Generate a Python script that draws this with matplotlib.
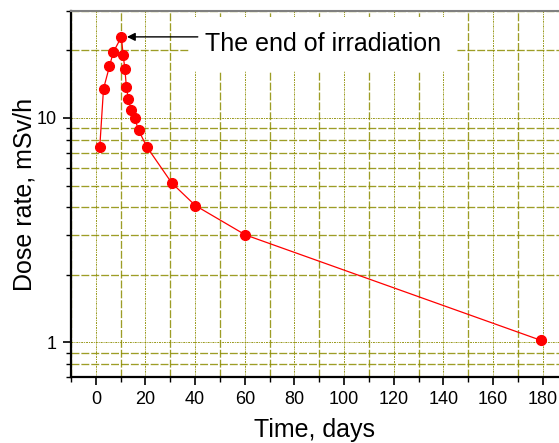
import matplotlib
matplotlib.use("Agg")
import matplotlib.pyplot as plt
from matplotlib.ticker import MultipleLocator, LogLocator, NullFormatter, FixedFormatter, FixedLocator

plt.rcParams['font.family'] = ['Liberation Sans', 'DejaVu Sans']

# dose rate after irradiation
time_days = [1.6, 3.1, 5.5, 7.0, 10.3, 11.0, 11.7, 12.3, 13.1, 14.2, 15.6, 17.2, 20.5, 30.6, 40.1, 60.3, 179.3]
dose_rate = [7.45, 13.5, 17.0, 19.6, 23.0, 19.1, 16.6, 13.8, 12.1, 10.9, 10.0, 8.84, 7.45, 5.13, 4.07, 3.01, 1.02]
peak_idx = 4
note = "The end of irradiation"

x_major = [0, 20, 40, 60, 80, 100, 120, 140, 160, 180]
y_major = [1, 10]
y_major_labels = ["1", "10"]

grid_col = "#8c8c00"

fig = plt.figure(figsize=(5.59, 4.43), dpi=100)
ax = fig.add_axes([71/559, 1 - 377/443, 1 - 71/559, (377 - 11)/443])

ax.set_yscale("log")
ax.set_xlim(-10, 186.6)
ax.set_ylim(0.7, 30)

ax.xaxis.set_major_locator(FixedLocator(x_major))
ax.xaxis.set_minor_locator(MultipleLocator(10))
ax.yaxis.set_major_locator(FixedLocator(y_major))
ax.yaxis.set_major_formatter(FixedFormatter(y_major_labels))
ax.yaxis.set_minor_locator(LogLocator(base=10, subs=range(2, 10)))
ax.yaxis.set_minor_formatter(NullFormatter())

# grid: major thin dotted, minor dashed
ax.grid(True, which="major", color=grid_col, linestyle=(0, (2, 1, 1, 1)), linewidth=0.7, alpha=0.9)
ax.grid(True, which="minor", color=grid_col, linestyle=(0, (6, 1.5)), linewidth=0.95, alpha=0.85)
ax.set_axisbelow(True)

ax.plot(time_days, dose_rate, color="red", linewidth=0.9, marker="o", markersize=7,
        markerfacecolor="red", markeredgecolor="red", zorder=3)

ax.annotate(note, xy=(time_days[peak_idx], dose_rate[peak_idx]), xytext=(60, -5),
            textcoords="offset points", fontsize=18, va="center", ha="left",
            bbox=dict(boxstyle="square,pad=0.6", fc="white", ec="none"), zorder=4)
ax.annotate("", xy=(time_days[peak_idx], dose_rate[peak_idx]), xytext=(55, 0),
            textcoords="offset points",
            arrowprops=dict(arrowstyle="-|>", color="black", lw=1.0, mutation_scale=12,
                            shrinkA=0, shrinkB=4), zorder=5)

ax.spines["right"].set_visible(False)
ax.spines["top"].set_color("#808080")
ax.spines["top"].set_linewidth(1.5)
ax.spines["left"].set_linewidth(1.6)
ax.spines["bottom"].set_linewidth(1.6)

ax.tick_params(which="major", direction="out", length=6, width=1.2, labelsize=13, pad=4)
ax.tick_params(which="minor", direction="out", length=3.5, width=1.0)
ax.tick_params(top=False, right=False)

ax.set_xlabel("Time, days", fontsize=18, labelpad=7)
ax.set_ylabel("Dose rate, mSv/h", fontsize=18, labelpad=0)

fig.savefig("out.png", dpi=100)
